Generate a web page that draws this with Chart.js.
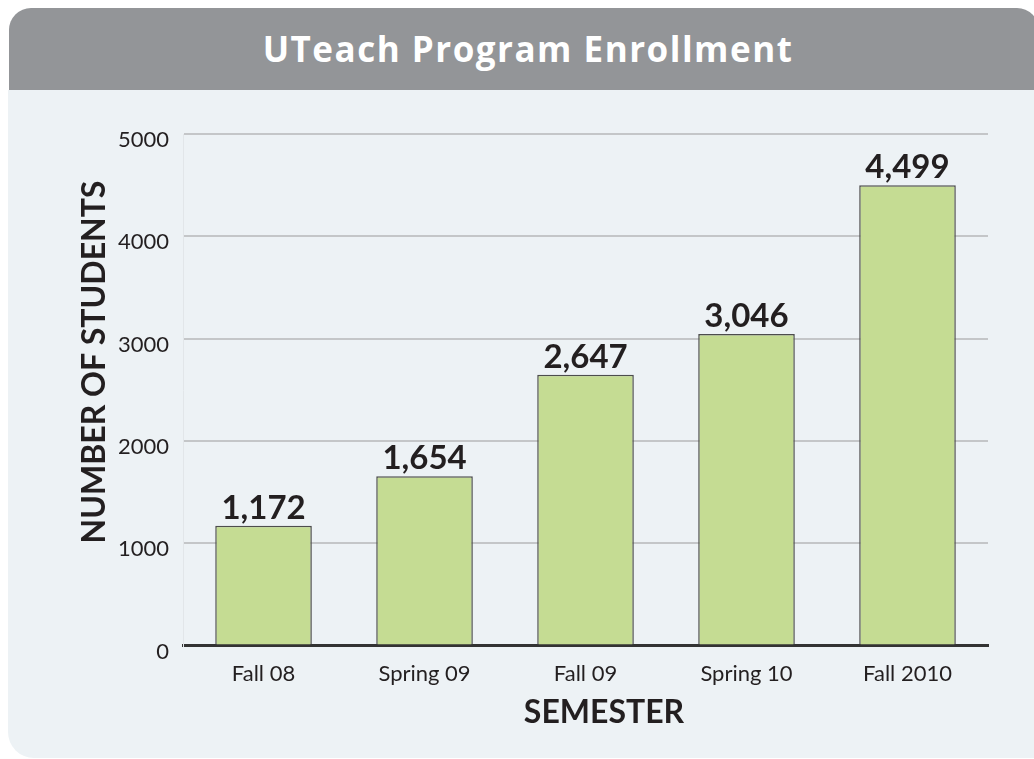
<!DOCTYPE html>
<html>
<head>
<meta charset="utf-8">
<script src="https://cdn.jsdelivr.net/npm/chart.js@4"></script>
<style>
  html, body { margin: 0; padding: 0; background: #ffffff; overflow: hidden; }
  #header {
    position: absolute; left: 9px; top: 8px; width: 1030px; height: 82px;
    background: #939598; border-radius: 22px 22px 0 0;
    color: #ffffff; font: bold 35px "Open Sans", sans-serif;
    text-align: center; line-height: 82px; letter-spacing: 1.5px;
  }
  #header span { position: relative; left: 4px; }
  #panel {
    position: absolute; left: 8px; top: 90px; width: 1040px; height: 668px;
    background: #edf2f5; border-radius: 0 0 0 26px;
  }
  #wrap { position: absolute; left: 0; top: 0; width: 1034px; height: 759px; }
</style>
</head>
<body>
<div id="header"><span>UTeach Program Enrollment</span></div>
<div id="panel"></div>
<div id="wrap"><canvas id="chart1" width="1034" height="759"></canvas></div>
<script>
const semesters = ["Fall 08", "Spring 09", "Fall 09", "Spring 10", "Fall 2010"];
const students = [1172, 1654, 2647, 3046, 4499];
const yTicks = [0, 1000, 2000, 3000, 4000, 5000];

const textColor = "#231f20";

// value labels above the bars + axis titles placed like the original
const extras = {
    id: "extras",
    afterDatasetsDraw(chart) {
        const ctx = chart.ctx;
        ctx.save();
        ctx.fillStyle = textColor;
        ctx.font = "bold 33px Lato";
        ctx.textAlign = "center";
        ctx.textBaseline = "alphabetic";
        chart.getDatasetMeta(0).data.forEach((bar, i) => {
            ctx.fillText(students[i].toLocaleString("en-US"), bar.x, bar.y - 7);
        });

        ctx.font = "bold 32px Lato";
        ctx.textBaseline = "middle";
        ctx.fillText("SEMESTER", 604, 713);

        ctx.translate(95, 362);
        ctx.rotate(-Math.PI / 2);
        ctx.fillText("NUMBER OF STUDENTS", 0, 0);
        ctx.restore();
    }
};

new Chart("chart1", {
    type: "bar",
    data: {
        labels: semesters,
        datasets: [{
            label: "Students",
            data: students,
            backgroundColor: "#c5dc93",
            borderColor: "#4d4d4d",
            borderWidth: 1.5,
            categoryPercentage: 1,
            barPercentage: 0.6
        }]
    },
    options: {
        responsive: false,
        animation: false,
        layout: {
            padding: { left: 104, right: 46, top: 134, bottom: 57 }
        },
        plugins: {
            legend: { display: false },
            tooltip: { enabled: false }
        },
        scales: {
            x: {
                grid: { display: false, drawTicks: false },
                border: { display: true, color: "#333333", width: 3 },
                ticks: {
                    color: textColor,
                    font: { family: "Lato", size: 22 },
                    padding: 15
                }
            },
            y: {
                min: 0,
                max: 5000,
                afterBuildTicks: axis => {
                    axis.ticks = yTicks.map(v => ({ value: v }));
                },
                grid: { color: "#c4c6c8", lineWidth: 2, drawTicks: false },
                border: { display: true, color: "#e2e6e9", width: 1 },
                ticks: {
                    color: textColor,
                    font: { family: "Lato", size: 22 },
                    padding: 14,
                    labelOffset: 6,
                    callback: v => String(v)
                }
            }
        }
    },
    plugins: [extras]
});
</script>
</body>
</html>
